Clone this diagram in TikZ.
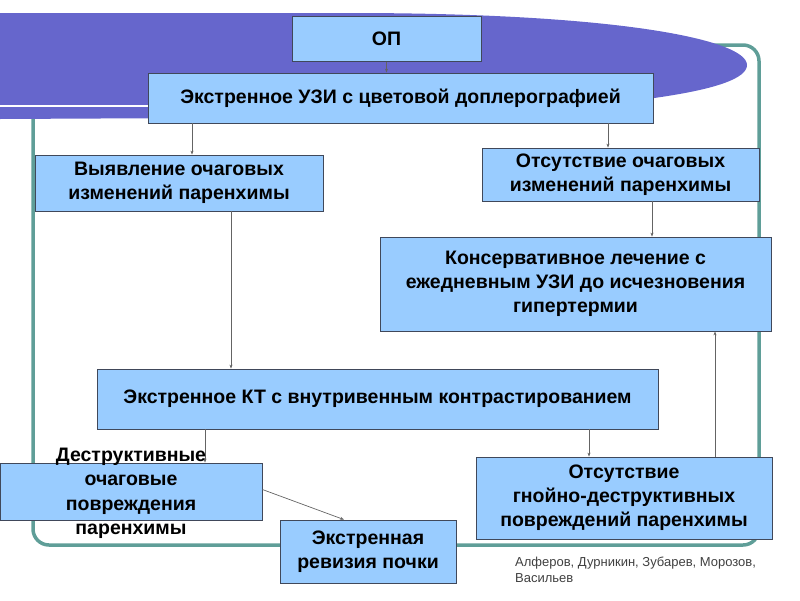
\documentclass[tikz,border=0pt]{standalone}
\usepackage{fontspec}
\setmainfont{Liberation Sans}
\usetikzlibrary{arrows.meta}
\definecolor{boxfill}{RGB}{153,204,255}
\definecolor{boxline}{RGB}{64,72,90}
\definecolor{purp}{RGB}{102,102,204}
\definecolor{frame}{RGB}{95,158,152}
\definecolor{conn}{RGB}{100,100,100}
\tikzset{
  box/.style={draw=boxline, fill=boxfill, line width=0.8pt, align=center, inner sep=0pt,
    font=\bfseries\fontsize{19.5}{24}\selectfont},
  conn/.style={draw=conn, line width=0.7pt, -{Stealth[length=4pt,width=3pt]}},
}
\begin{document}
\begin{tikzpicture}[x=1pt,y=-1pt]
\useasboundingbox (0,0) rectangle (800,600);
% frame
\draw[frame, line width=3.5pt, rounded corners=16pt] (33,119) -- (33,545) -- (759,545) -- (759,45) -- (600,45);
% purple ellipse
\fill[purp] (0,13) -- (350,13) .. controls (620,13) and (747,40) .. (747,65)
  .. controls (747,92) and (620,108) .. (400,117) -- (0,119) -- cycle;
\draw[white, line width=2.5pt] (0,106) -- (150,106);
% boxes
\node[box, minimum width=189pt, minimum height=45pt] (op) at (386.5,39) {ОП};
\node[box, minimum width=505pt, minimum height=50pt] (uzi) at (400.5,98) {Экстренное УЗИ с цветовой доплерографией};
\node[box, minimum width=288pt, minimum height=56pt] (vyav) at (179,183) {Выявление очаговых\\изменений паренхимы};
\node[box, minimum width=277pt, minimum height=53pt] (ots1) at (620.5,174.5) {Отсутствие очаговых\\изменений паренхимы};
\node[box, minimum width=391pt, minimum height=94pt] (kons) at (575.5,284) {Консервативное лечение с\\ежедневным УЗИ до исчезновения\\гипертермии};
\node[box, minimum width=561pt, minimum height=60pt] (kt) at (377.5,399) {Экстренное КТ с внутривенным контрастированием};
\node[box, minimum width=262pt, minimum height=57pt] (destr) at (131,491.5) {};
\node[box, minimum width=296pt, minimum height=82pt] (ots2) at (624,498) {Отсутствие\\гнойно-деструктивных\\повреждений паренхимы};
\node[box, minimum width=176pt, minimum height=63pt] (rev) at (368,551.5) {Экстренная\\ревизия почки};
% connectors
\draw[conn] (op.south) -- (op.south|-uzi.north);
\draw[conn] (uzi.south-|vyav.north) ++(13,0) coordinate (a1) -- (a1|-vyav.north);
\draw[conn] (uzi.south-|ots1.north) ++(-12.5,0) coordinate (a2) -- (a2|-ots1.north);
\draw[conn] (ots1.south) ++(31.5,0) coordinate (a3) -- (a3|-kons.north);
\draw[conn] (vyav.south) ++(52,0) coordinate (a4) -- (a4|-kt.north);
\draw[conn] (kt.south) ++(-172.5,0) coordinate (a5) -- (a5|-destr.north);
\draw[conn] (kt.south) ++(211.5,0) coordinate (a6) -- (a6|-ots2.north);
\draw[conn] (ots2.north) ++(91,0) coordinate (a7) -- (a7|-kons.south);
\draw[conn] (destr.east) ++(0,-2) coordinate (a8) -- ([xshift=-24pt]rev.north);
% overflowing text
\node[font=\bfseries\fontsize{19.5}{24.5}\selectfont, align=center, inner sep=0pt] (destrt) at (131,493.5) {Деструктивные\\очаговые\\повреждения\\паренхимы};
% author
\node[font=\fontsize{13}{16}\selectfont, text=black!75, align=left, anchor=north west, inner sep=0pt] (auth) at (515,557) {Алферов, Дурникин, Зубарев, Морозов,\\Васильев};
\end{tikzpicture}
\end{document}
